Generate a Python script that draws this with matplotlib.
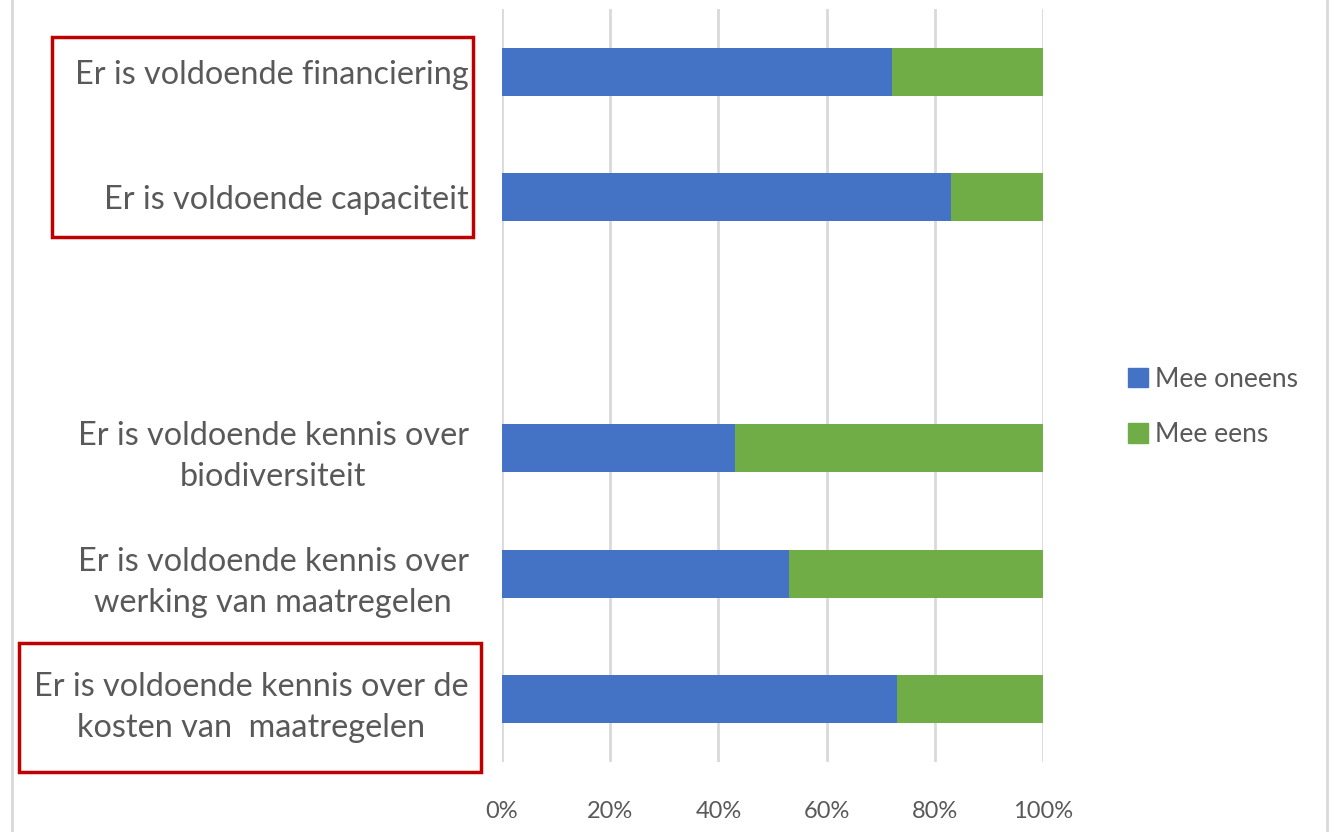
import matplotlib.pyplot as plt
from matplotlib.patches import Rectangle
from matplotlib.lines import Line2D

# Data (fractions of respondents)
categorieen = [
    "Er is voldoende financiering",
    "Er is voldoende capaciteit",
    "",
    "Er is voldoende kennis over\nbiodiversiteit",
    "Er is voldoende kennis over\nwerking van maatregelen",
    "Er is voldoende kennis over de\nkosten van  maatregelen",
]
mee_oneens = [72, 83, 0, 43, 53, 73]
mee_eens = [28, 17, 0, 57, 47, 27]
series_labels = ["Mee oneens", "Mee eens"]

BLAUW = "#4472c4"
GROEN = "#70ad47"
GRIJS = "#595959"

plt.rcParams['font.family'] = ['Lato', 'DejaVu Sans']

W, H = 1335, 832
fig = plt.figure(figsize=(W / 100, H / 100), dpi=100)
ax = fig.add_axes([502 / W, 1 - 762 / H, (1043 - 502) / W, (762 - 9) / H])

y = list(range(len(categorieen)))
ax.barh(y, mee_oneens, height=0.385, color=BLAUW, label=series_labels[0], zorder=3)
ax.barh(y, mee_eens, left=mee_oneens, height=0.385, color=GROEN, label=series_labels[1], zorder=3)

ax.set_xlim(0, 100)
ax.set_ylim(len(categorieen) - 0.5, -0.5)
ax.set_xticks(range(0, 101, 20))
ax.set_xticklabels([f"{v}%" for v in range(0, 101, 20)], fontsize=17, color=GRIJS)
ax.set_yticks(y)
ax.set_yticklabels(categorieen, fontsize=23.3, color=GRIJS, multialignment='center',
                   linespacing=1.45)
for lbl in ax.get_yticklabels():
    if "\n" in lbl.get_text():
        lbl.set_y(lbl.get_position()[1])
ax.tick_params(axis='both', length=0)
ax.tick_params(axis='y', pad=24)
ax.tick_params(axis='x', pad=28)
ax.grid(axis='x', color='#d9d9d9', linewidth=2, zorder=0)
for s in ax.spines.values():
    s.set_visible(False)

# legend
fig.legend(handles=[Rectangle((0, 0), 1, 1, color=BLAUW), Rectangle((0, 0), 1, 1, color=GROEN)],
           labels=series_labels, loc='center left', bbox_to_anchor=(1104 / W, 1 - 407 / H),
           frameon=False, fontsize=19, labelcolor=GRIJS, handlelength=0.75, handleheight=0.75,
           handletextpad=0.3, labelspacing=1.15)

# red highlight boxes
for (x0, y0, x1, y1) in [(52, 37, 473, 237), (19, 643, 481, 772)]:
    fig.patches.append(Rectangle((x0 / W, 1 - y1 / H), (x1 - x0) / W, (y1 - y0) / H,
                                 transform=fig.transFigure, fill=False,
                                 edgecolor='#c00000', linewidth=2.5))

# outer border lines of the screenshot
for xp in (12, 1327):
    fig.lines.append(Line2D([xp / W, xp / W], [0, 1], transform=fig.transFigure,
                            color='#d9d9d9', linewidth=2))

fig.savefig("out.png", dpi=100)
